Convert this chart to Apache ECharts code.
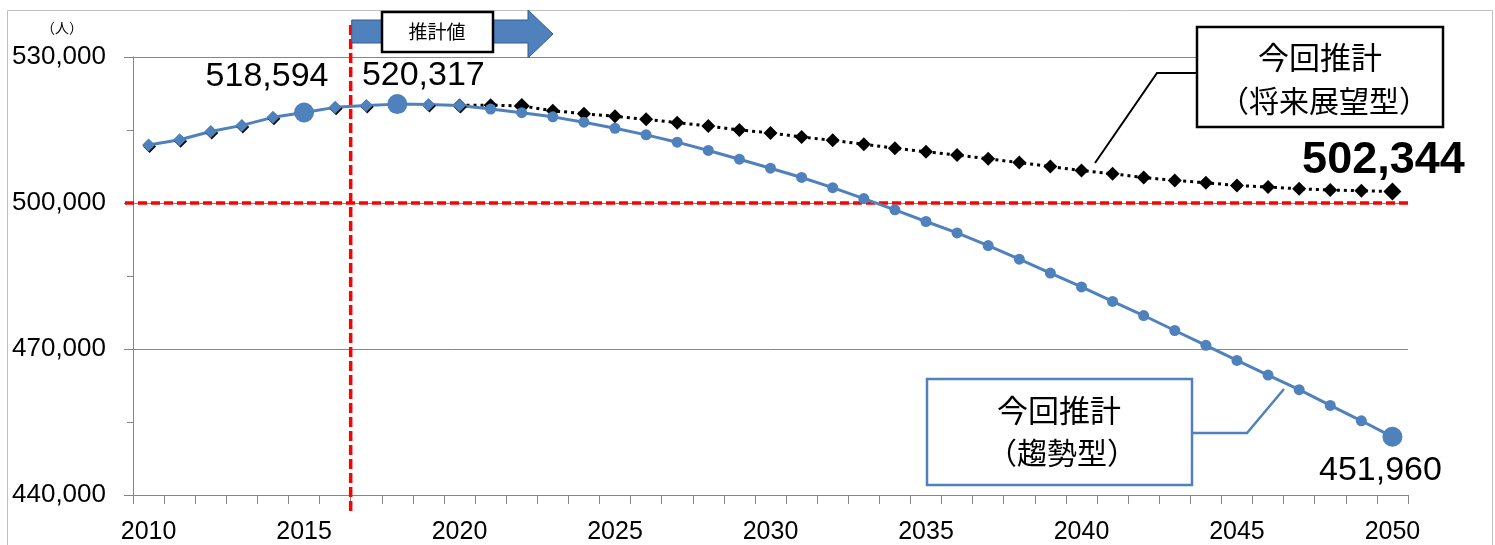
<!DOCTYPE html>
<html>
<head>
<meta charset="utf-8">
<script src="https://cdn.jsdelivr.net/npm/echarts@6/dist/echarts.min.js"></script>
<style>
  html, body { margin: 0; padding: 0; background: #ffffff; }
  #chart { width: 1495px; height: 545px; }
</style>
</head>
<body>
<div id="chart"></div>
<script>
// Years on the horizontal axis
const years = [
  '2010','2011','2012','2013','2014','2015','2016','2017','2018','2019',
  '2020','2021','2022','2023','2024','2025','2026','2027','2028','2029',
  '2030','2031','2032','2033','2034','2035','2036','2037','2038','2039',
  '2040','2041','2042','2043','2044','2045','2046','2047','2048','2049','2050'
];

// 今回推計（趨勢型）: actual values up to 2020, trend projection afterwards
const trendValues = [
  511900, 513000, 514700, 515950, 517600, 518594, 519650, 520050, 520317, 520250,
  520050, 519300, 518550, 517700, 516600, 515350, 514000, 512500, 510800, 509000,
  507150, 505250, 503150, 500900, 498600, 496200, 493850, 491250, 488450, 485600,
  482750, 479780, 476880, 473800, 470750, 467650, 464650, 461650, 458400, 455250, 451960
];

// 今回推計（将来展望型）: projection branching off from 2020
const outlookValues = [
  null, null, null, null, null, null, null, null, null, null,
  520050, 520100, 519950, 518950, 518350, 517800, 517190, 516500, 515820, 515000,
  514400, 513570, 512880, 512075, 511257, 510530, 509860, 509067, 508310, 507490,
  506673, 505998, 505240, 504626, 504156, 503600, 503276, 502929, 502664, 502520, 502344
];

// Value axis ticks
const yTicks = [440000, 470000, 500000, 530000];

// Reference level and period markers
const thresholdValue = 500000;
const lastActualYear = '2020';
const lastCensusYear = '2016';
const firstProjectionYear = '2017';
const trendLabelYears = ['2015', '2018', '2050'];
const outlookLabelYears = ['2050'];
const outlookLargeYears = ['2022', '2050'];

const BLUE = '#4F81BD';
const GRAY = '#868686';
const NUM_FONT = '"Liberation Sans", Arial, sans-serif';
const CJK_FONT = '"Noto Sans CJK JP", "Noto Sans CJK SC", sans-serif';

const fmt = v => Number(v).toLocaleString('en-US');

// label placement around the highlighted points
const trendLabelOffsets = { '2015': [-37, -36], '2018': [26, -28], '2050': [-12, 34] };

const trendData = trendValues.map((v, i) => {
  const y = years[i];
  const item = { value: v };
  if (trendLabelYears.includes(y)) {
    item.symbol = 'circle';
    item.symbolSize = 20;
    item.label = {
      show: true,
      position: 'inside',
      offset: trendLabelOffsets[y],
      formatter: p => fmt(p.value),
      fontFamily: NUM_FONT,
      fontSize: 34,
      color: '#000'
    };
  } else if (+y <= +lastActualYear) {
    item.symbol = 'diamond';
    item.symbolSize = 13;
    item.itemStyle = {
      color: BLUE,
      shadowColor: 'rgba(0,0,0,0.95)',
      shadowBlur: 0,
      shadowOffsetX: 1,
      shadowOffsetY: 1.5
    };
  } else {
    item.symbol = 'circle';
    item.symbolSize = 11;
  }
  return item;
});

const outlookData = outlookValues.map((v, i) => {
  const y = years[i];
  if (v === null) return null;
  const item = { value: v, symbol: 'diamond', symbolSize: outlookLargeYears.includes(y) ? (y === '2050' ? 18 : 16) : 14 };
  if (outlookLabelYears.includes(y)) {
    item.label = {
      show: true,
      position: 'inside',
      offset: [-9, -31],
      formatter: p => fmt(p.value),
      fontFamily: NUM_FONT,
      fontSize: 45,
      fontWeight: 'bold',
      color: '#000'
    };
  }
  return item;
});

const chart = echarts.init(document.getElementById('chart'), null, { renderer: 'canvas' });

chart.setOption({
  animation: false,
  backgroundColor: '#ffffff',
  grid: { left: 133, top: 57, width: 1275, height: 440, containLabel: false },
  xAxis: {
    type: 'category',
    data: years,
    boundaryGap: true,
    axisLine: { show: true, lineStyle: { color: GRAY, width: 1 } },
    axisTick: { show: true, interval: 0, length: 9, lineStyle: { color: GRAY } },
    axisLabel: {
      interval: 4,
      margin: 25,
      fontFamily: NUM_FONT,
      fontSize: 25,
      color: '#000'
    },
    splitLine: { show: false }
  },
  yAxis: {
    type: 'value',
    min: yTicks[0],
    max: yTicks[yTicks.length - 1],
    interval: yTicks[1] - yTicks[0],
    axisLine: { show: true, lineStyle: { color: GRAY, width: 1 } },
    axisTick: { show: true, length: 9, lineStyle: { color: GRAY } },
    minorTick: { show: true, splitNumber: 2, length: 6, lineStyle: { color: GRAY } },
    axisLabel: {
      margin: 27,
      formatter: v => fmt(v),
      fontFamily: NUM_FONT,
      fontSize: 26,
      color: '#000'
    },
    splitLine: { show: true, lineStyle: { color: GRAY, width: 1 } }
  },
  series: [
    {
      name: '今回推計（将来展望型）',
      type: 'line',
      data: outlookData,
      showAllSymbol: true,
      connectNulls: false,
      z: 3,
      lineStyle: { color: '#000', width: 3, type: [3, 4], cap: 'butt' },
      itemStyle: { color: '#000' }
    },
    {
      name: '今回推計（趨勢型）',
      type: 'line',
      data: trendData,
      showAllSymbol: true,
      z: 4,
      lineStyle: { color: BLUE, width: 3 },
      itemStyle: { color: BLUE }
    }
  ]
});

// Reference lines and annotations placed from the axes' own scales
const xCensus = chart.convertToPixel({ xAxisIndex: 0 }, lastCensusYear);
const xProj = chart.convertToPixel({ xAxisIndex: 0 }, firstProjectionYear);
const xSplit = (xCensus + xProj) / 2;
const yThreshold = chart.convertToPixel({ yAxisIndex: 0 }, thresholdValue);
const xFirst = chart.convertToPixel({ xAxisIndex: 0 }, years[0]);
const xLast = chart.convertToPixel({ xAxisIndex: 0 }, years[years.length - 1]);
const band = (xLast - xFirst) / (years.length - 1);
const gridRight = xLast + band / 2;
const gridBottom = chart.convertToPixel({ yAxisIndex: 0 }, yTicks[0]);

chart.setOption({
  graphic: [
    // outer frame
    { type: 'rect', z: 0, silent: true,
      shape: { x: 7.5, y: 10.5, width: 1485, height: 560 },
      style: { fill: null, stroke: '#BFBFBF', lineWidth: 1 } },
    // unit
    { type: 'text', z: 5, silent: true, x: 62, y: 28,
      style: { text: '（人）', font: '14px ' + CJK_FONT, fill: '#000', align: 'center', verticalAlign: 'middle' } },
    // 500,000 line
    { type: 'line', z: 1, silent: true,
      shape: { x1: 125, y1: yThreshold, x2: gridRight + 3, y2: yThreshold },
      style: { stroke: '#FF0000', lineWidth: 3.5, lineDash: [9, 4] } },
    // start of projection period
    { type: 'line', z: 1, silent: true,
      shape: { x1: xSplit, y1: 25, x2: xSplit, y2: gridBottom + 18 },
      style: { stroke: '#FF0000', lineWidth: 3.5, lineDash: [10, 4] } },
    // projection arrow
    { type: 'polygon', z: 6, silent: true,
      shape: { points: [[xSplit + 1, 20], [528, 20], [528, 10], [553, 34], [528, 58], [528, 43], [xSplit + 1, 43]] },
      style: { fill: BLUE, stroke: '#385D8A', lineWidth: 1 } },
    { type: 'rect', z: 7, silent: true,
      shape: { x: 382, y: 12, width: 111, height: 40 },
      style: { fill: '#fff', stroke: '#000', lineWidth: 2.5 } },
    { type: 'text', z: 8, silent: true, x: 437, y: 32,
      style: { text: '推計値', font: '19px ' + CJK_FONT, fill: '#000', align: 'center', verticalAlign: 'middle' } },
    // callout: outlook scenario
    { type: 'polyline', z: 6, silent: true,
      shape: { points: [[1197, 73], [1157, 73], [1095, 163]] },
      style: { stroke: '#000', lineWidth: 2, fill: null } },
    { type: 'rect', z: 7, silent: true,
      shape: { x: 1197, y: 27, width: 246, height: 100 },
      style: { fill: '#fff', stroke: '#000', lineWidth: 2.5 } },
    { type: 'text', z: 8, silent: true, x: 1320, y: 57,
      style: { text: '今回推計', font: '31px ' + CJK_FONT, fill: '#000', align: 'center', verticalAlign: 'middle' } },
    { type: 'text', z: 8, silent: true, x: 1324, y: 101,
      style: { text: '（将来展望型）', font: '30px ' + CJK_FONT, fill: '#000', align: 'center', verticalAlign: 'middle' } },
    // callout: trend scenario
    { type: 'polyline', z: 6, silent: true,
      shape: { points: [[1192, 433], [1247, 433], [1284, 389]] },
      style: { stroke: BLUE, lineWidth: 2.5, fill: null } },
    { type: 'rect', z: 7, silent: true,
      shape: { x: 927, y: 379, width: 265, height: 106 },
      style: { fill: '#fff', stroke: BLUE, lineWidth: 2.5 } },
    { type: 'text', z: 8, silent: true, x: 1059, y: 410,
      style: { text: '今回推計', font: '31px ' + CJK_FONT, fill: '#000', align: 'center', verticalAlign: 'middle' } },
    { type: 'text', z: 8, silent: true, x: 1062, y: 453,
      style: { text: '（趨勢型）', font: '30px ' + CJK_FONT, fill: '#000', align: 'center', verticalAlign: 'middle' } }
  ]
});
</script>
</body>
</html>
